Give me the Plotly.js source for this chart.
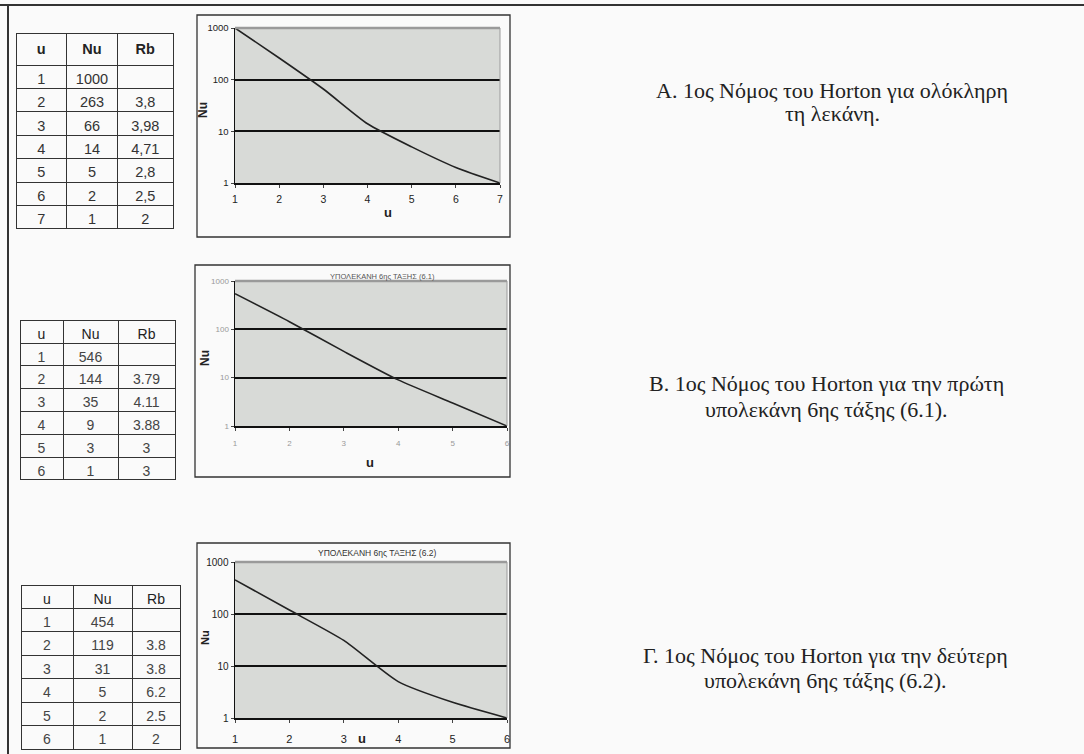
<!DOCTYPE html>
<html>
<head>
<meta charset="utf-8">
<script src="https://cdn.plot.ly/plotly-3.0.1.min.js"></script>
<style>html,body{margin:0;padding:0;background:#fafafa;}#chart{width:1084px;height:754px;}</style>
</head>
<body>
<div id="chart"></div>
<script>
// ---- Data ----
const headers1 = ['<b>u</b>', '<b>Nu</b>', '<b>Rb</b>'];
const u1 = [1, 2, 3, 4, 5, 6, 7];
const nu1 = [1000, 263, 66, 14, 5, 2, 1];
const rb1 = ['', '3,8', '3,98', '4,71', '2,8', '2,5', '2'];

const headers2 = ['u', 'Nu', 'Rb'];
const u2 = [1, 2, 3, 4, 5, 6];
const nu2 = [546, 144, 35, 9, 3, 1];
const rb2 = ['', '3.79', '4.11', '3.88', '3', '3'];

const headers3 = ['u', 'Nu', 'Rb'];
const u3 = [1, 2, 3, 4, 5, 6];
const nu3 = [454, 119, 31, 5, 2, 1];
const rb3 = ['', '3.8', '3.8', '6.2', '2.5', '2'];

const yTickVals = [1, 10, 100, 1000];
const yTickText = ['1', '10', '100', '1000'];

const title2 = 'ΥΠΟΛΕΚΑΝΗ 6ης ΤΑΞΗΣ (6.1)';
const title3 = 'ΥΠΟΛΕΚΑΝΗ 6ης ΤΑΞΗΣ (6.2)';
const captionA = ['Α. 1ος Νόμος του Horton για ολόκληρη', 'τη λεκάνη.'];
const captionB = ['Β. 1ος Νόμος του Horton για την πρώτη', 'υπολεκάνη 6ης τάξης (6.1).'];
const captionC = ['Γ. 1ος Νόμος του Horton για την δεύτερη', 'υπολεκάνη 6ης τάξης (6.2).'];

// ---- Helpers ----
const W = 1084, H = 754;
const px = v => v / W;
const py = v => 1 - v / H;
const SANS = 'Liberation Sans, Arial, sans-serif';
const SERIF = 'Liberation Serif, Times New Roman, serif';

function lineTrace(x, y, xa, ya) {
  return {
    type: 'scatter', mode: 'lines', x: x, y: y, xaxis: xa, yaxis: ya,
    line: {color: '#222', width: 1.6, shape: 'spline', smoothing: 0.6},
    hoverinfo: 'skip', showlegend: false
  };
}

function tableTrace(hdr, cols, dom, widths, hh, ch, fsize, fcolor) {
  return {
    type: 'table',
    domain: dom,
    columnwidth: widths,
    header: {
      values: hdr, height: hh, align: 'center',
      font: {family: SANS, size: fsize, color: '#222'},
      line: {color: '#333', width: 1},
      fill: {color: '#fafafa'}
    },
    cells: {
      values: cols, height: ch, align: 'center',
      font: {family: SANS, size: fsize, color: fcolor},
      line: {color: '#333', width: 1},
      fill: {color: '#fafafa'}
    }
  };
}

function xAxis(dom, range, anchor, fsize, fcolor, standoff) {
  return {
    domain: dom, range: range, anchor: anchor, dtick: 1, tick0: 1,
    showgrid: false, zeroline: false,
    showline: true, linecolor: '#111', linewidth: 1.5,
    ticks: 'outside', ticklen: 3, tickcolor: '#444',
    ticklabelstandoff: standoff,
    tickfont: {family: SANS, size: fsize, color: fcolor},
    fixedrange: true
  };
}

function yAxis(dom, anchor, fsize, fcolor) {
  return {
    domain: dom, type: 'log', range: [0, 3], anchor: anchor,
    tickmode: 'array', tickvals: yTickVals, ticktext: yTickText,
    showgrid: true, gridcolor: '#111', gridwidth: 2,
    zeroline: false,
    showline: true, linecolor: '#111', linewidth: 1.5,
    ticks: 'outside', ticklen: 3, tickcolor: '#444',
    tickfont: {family: SANS, size: fsize, color: fcolor},
    fixedrange: true
  };
}

const data = [
  lineTrace(u1, nu1, 'x', 'y'),
  lineTrace(u2, nu2, 'x2', 'y2'),
  lineTrace(u3, nu3, 'x3', 'y3'),
  tableTrace(headers1, [u1, nu1, rb1], {x: [px(16), px(173)], y: [py(234), py(33)]}, [50, 51, 55], 25, 23.4, 14.5, '#333'),
  tableTrace(headers2, [u2, nu2, rb2], {x: [px(20), px(175)], y: [py(492), py(320)]}, [43, 55, 57], 23, 22.8, 14, '#444'),
  tableTrace(headers3, [u3, nu3, rb3], {x: [px(21), px(180)], y: [py(754), py(585)]}, [52, 59, 48], 23, 23.5, 14, '#444')
];

const shapes = [
  // page frame
  {type: 'line', xref: 'paper', yref: 'paper', x0: 0, x1: 1, y0: py(5), y1: py(5), line: {color: '#333', width: 2}},
  {type: 'line', xref: 'paper', yref: 'paper', x0: px(8), x1: px(8), y0: py(5), y1: 0, line: {color: '#333', width: 2}},
  // chart boxes
  {type: 'rect', xref: 'paper', yref: 'paper', x0: px(197), x1: px(510), y0: py(237), y1: py(15), line: {color: '#333', width: 1.3}},
  {type: 'rect', xref: 'paper', yref: 'paper', x0: px(195), x1: px(510), y0: py(477), y1: py(265), line: {color: '#333', width: 1.3}},
  {type: 'rect', xref: 'paper', yref: 'paper', x0: px(197), x1: px(510), y0: py(748), y1: py(543), line: {color: '#333', width: 1.3}}
];
// plot area top/right light edges
[['x', 'y'], ['x2', 'y2'], ['x3', 'y3']].forEach(([xa, ya]) => {
  shapes.push({type: 'line', layer: 'above', xref: xa + ' domain', yref: ya + ' domain', x0: 0, x1: 1, y0: 1, y1: 1, line: {color: '#9a9a9a', width: 2.5}});
  shapes.push({type: 'line', layer: 'above', xref: xa + ' domain', yref: ya + ' domain', x0: 1, x1: 1, y0: 0, y1: 1, line: {color: '#9a9a9a', width: 1}});
});

function ann(text, x, y, size, opts) {
  return Object.assign({
    text: text, xref: 'paper', yref: 'paper', x: px(x), y: py(y),
    xanchor: 'center', yanchor: 'middle', showarrow: false,
    font: {family: SANS, size: size, color: '#222'}
  }, opts || {});
}
const CAP = 22;
const capFont = {family: SERIF, size: CAP, color: '#222'};

const annotations = [
  // axis titles
  ann('<b>Nu</b>', 203, 110, 12, {textangle: -90}),
  ann('<b>u</b>', 388, 212, 13),
  ann('<b>Nu</b>', 205, 358, 12, {textangle: -90}),
  ann('<b>u</b>', 370, 463, 13),
  ann('<b>Nu</b>', 205, 638, 11, {textangle: -90}),
  ann('<b>u</b>', 362, 738, 13),
  // chart titles
  ann(title2, 382, 276, 7.5, {font: {family: SANS, size: 7.5, color: '#555'}}),
  ann(title3, 377, 553, 8.5, {font: {family: SANS, size: 8.5, color: '#333'}}),
  // captions
  ann(captionA[0], 832, 90, CAP, {font: capFont}),
  ann(captionA[1], 832, 113, CAP, {font: capFont}),
  ann(captionB[0], 826, 383, CAP, {font: capFont}),
  ann(captionB[1], 826, 409, CAP, {font: capFont}),
  ann(captionC[0], 825, 655, CAP, {font: capFont}),
  ann(captionC[1], 825, 680, CAP, {font: capFont})
];

const layout = {
  width: W, height: H,
  margin: {l: 0, r: 0, t: 0, b: 0},
  paper_bgcolor: '#fafafa',
  plot_bgcolor: '#d8dad7',
  showlegend: false,
  xaxis: xAxis([px(235), px(500)], [1, 7], 'y', 10.5, '#222', 3),
  yaxis: yAxis([py(183), py(28)], 'x', 9.5, '#222'),
  xaxis2: xAxis([px(235), px(507)], [1, 6], 'y2', 8, '#999', 6),
  yaxis2: yAxis([py(426), py(281)], 'x2', 8, '#999'),
  xaxis3: xAxis([px(235), px(507)], [1, 6], 'y3', 11, '#222', 7),
  yaxis3: yAxis([py(718), py(562)], 'x3', 10, '#222'),
  shapes: shapes,
  annotations: annotations
};

Plotly.newPlot('chart', data, layout, {staticPlot: true, displayModeBar: false});
</script>
</body>
</html>
